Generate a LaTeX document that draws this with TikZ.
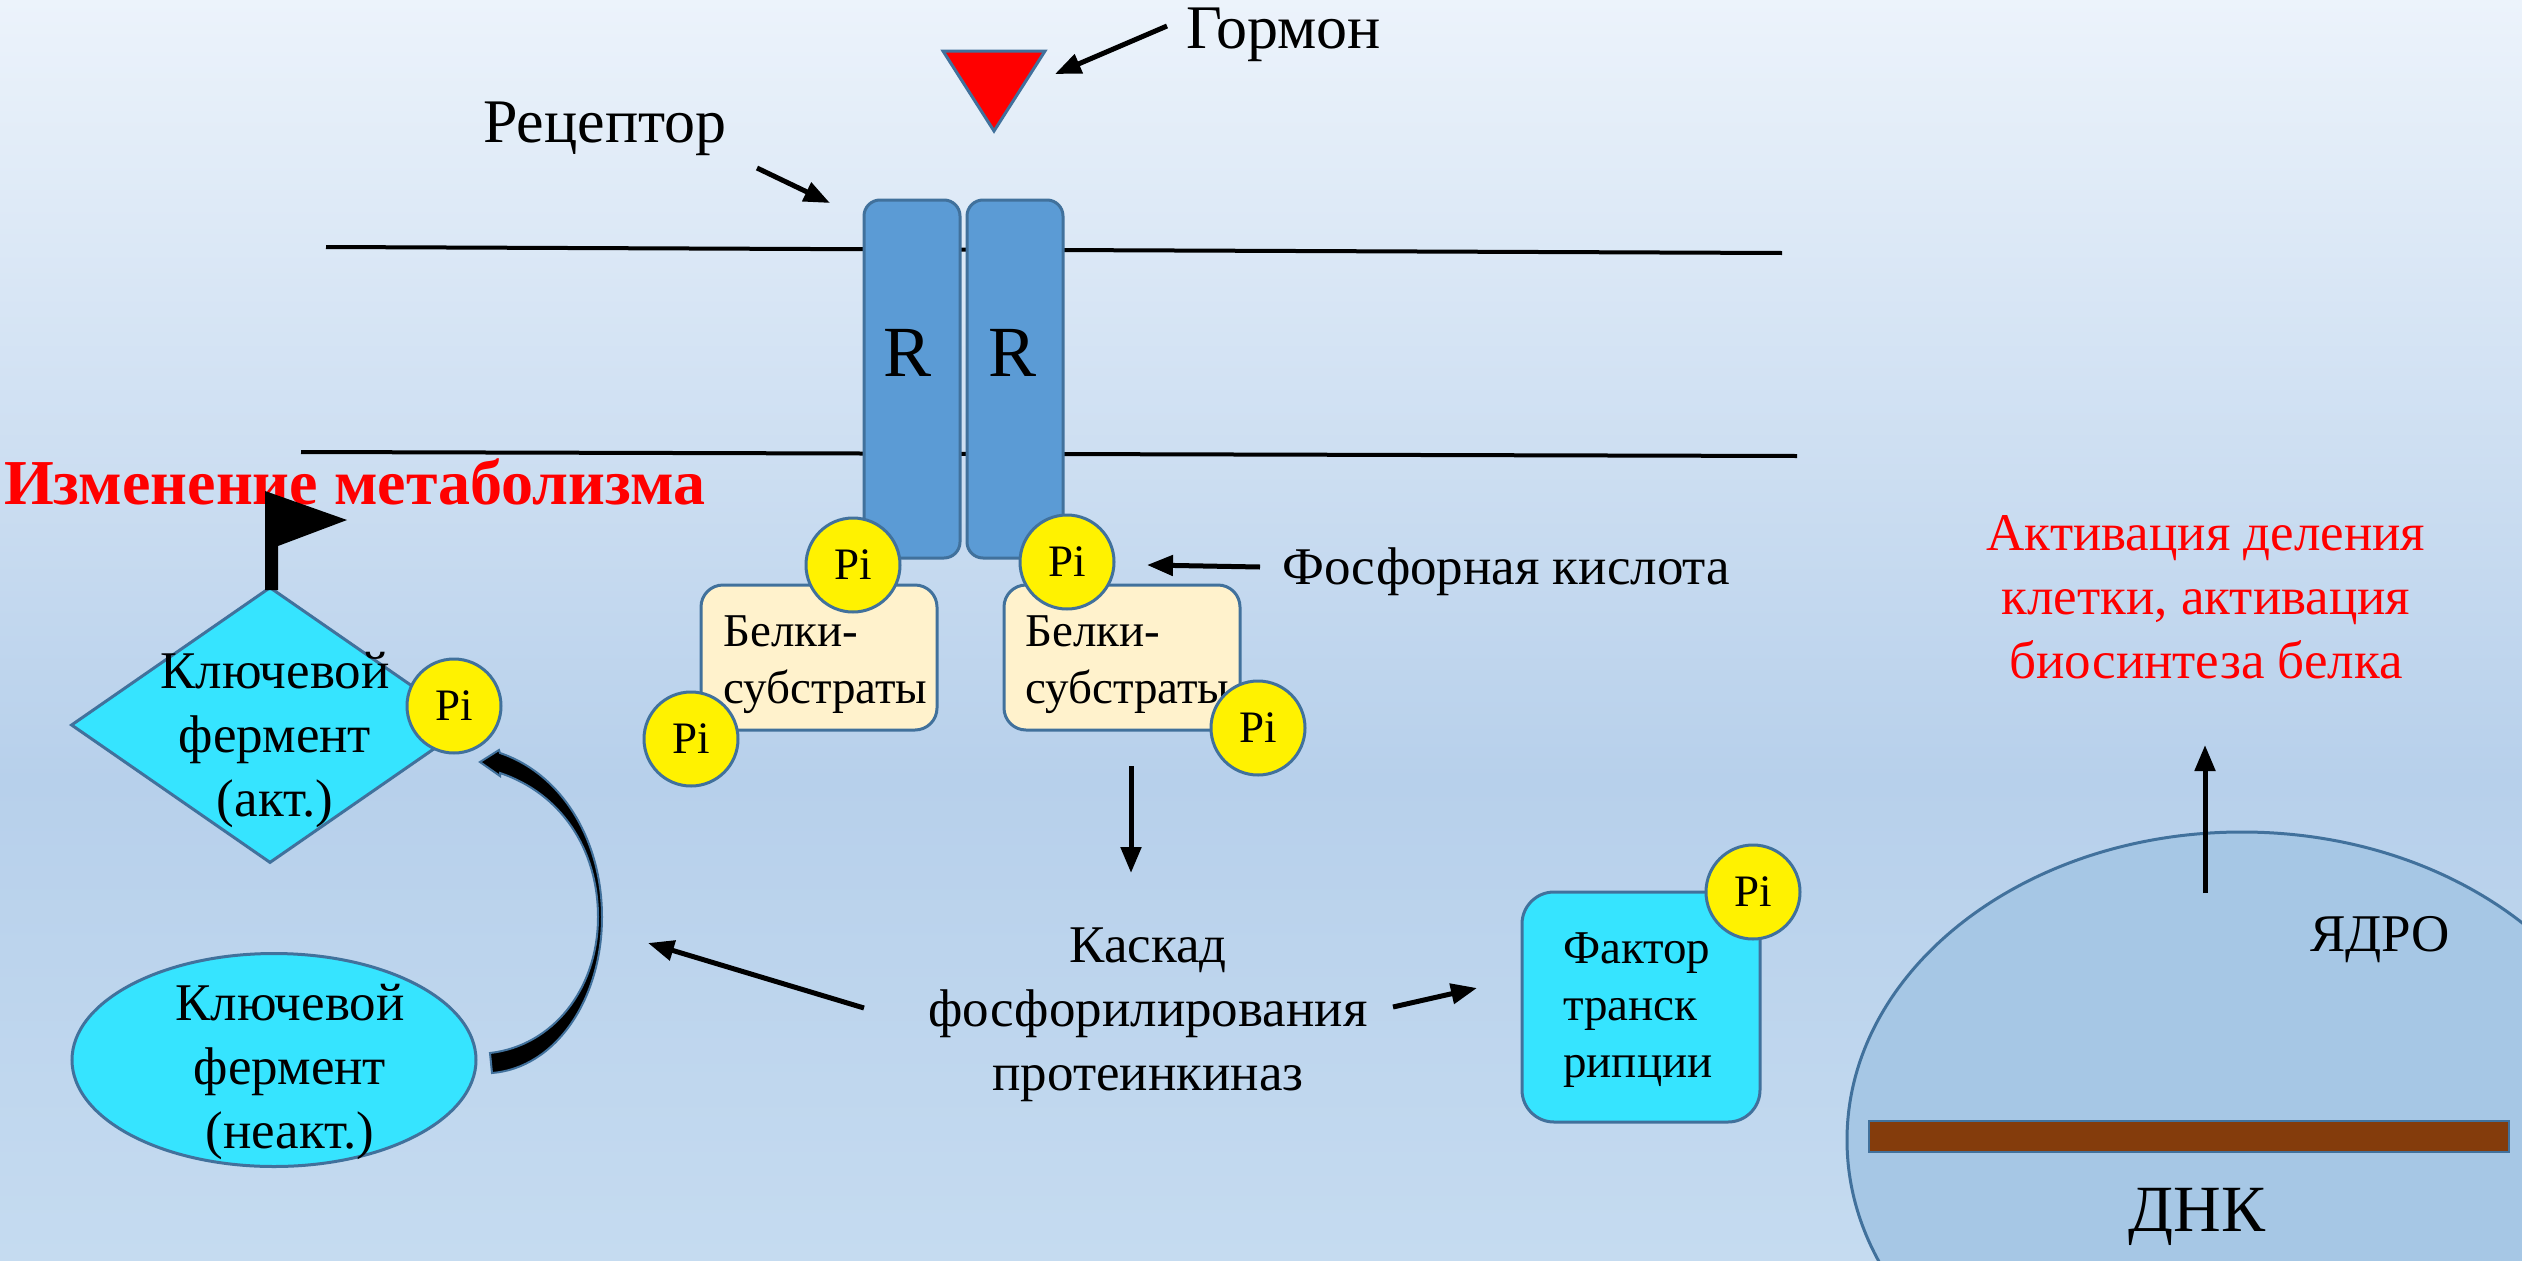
\documentclass[tikz,border=0pt]{standalone}
\usepackage{fontspec}
\setmainfont{Liberation Serif}
\usetikzlibrary{arrows.meta,shapes.geometric}
\definecolor{bord}{RGB}{65,113,156}
\definecolor{rblue}{RGB}{91,155,213}
\definecolor{cyanf}{RGB}{54,228,255}
\definecolor{cream}{RGB}{255,242,204}
\definecolor{dnabrown}{RGB}{132,60,12}
\definecolor{nucfill}{RGB}{166,199,229}
\definecolor{bgtop}{RGB}{236,243,251}
\definecolor{bgmid}{RGB}{183,208,235}
\definecolor{bgbot}{RGB}{197,219,240}
\definecolor{redtxt}{RGB}{255,0,0}
\begin{document}
\begin{tikzpicture}[x=1pt,y=-1pt,
  rbox/.style={rectangle,rounded corners=16pt,fill=rblue,draw=bord,line width=3pt,
    minimum width=96pt,minimum height=358pt,inner sep=0pt},
  pibub/.style={circle,fill=yellow,draw=bord,line width=3pt,minimum size=94pt,
    inner sep=0pt,font=\fontsize{45}{50}\selectfont},
  subbox/.style={rectangle,rounded corners=22pt,fill=cream,draw=bord,line width=3pt,
    minimum width=236pt,minimum height=145pt,inner sep=0pt},
  enzshape/.style={fill=cyanf,draw=bord,line width=3pt,inner sep=0pt},
  lbl/.style={inner sep=0pt,font=\fontsize{53}{64}\selectfont,align=center},
  boxlbl/.style={inner sep=0pt,font=\fontsize{47}{57}\selectfont,align=left},
  biglbl/.style={inner sep=0pt,font=\fontsize{62}{70}\selectfont},
  arr/.style={line width=5pt,-{Triangle[length=26pt,width=20pt]}},
  memline/.style={line width=4pt},
]
% canvas and background gradient
\useasboundingbox (0,0) rectangle (2522,1261);
\shade[top color=bgtop,bottom color=bgmid] (0,0) rectangle (2522,780);
\shade[top color=bgmid,bottom color=bgbot] (0,779) rectangle (2522,1261);

% nucleus with DNA
\node[ellipse,fill=nucfill,draw=bord,line width=3pt,minimum width=790pt,
  minimum height=616pt,inner sep=0pt] (nucleus) at (2242,1140) {};
\node[rectangle,fill=dnabrown,draw=bord,line width=2pt,minimum width=640pt,
  minimum height=31pt,inner sep=0pt] (dna) at (2189,1136.5) {};
\node[lbl,anchor=base] (nuclbl) at (2380,951) {ЯДРО};
\node[inner sep=0pt,font=\fontsize{66}{72}\selectfont,anchor=base] (dnalbl) at (2197,1231) {ДНК};
\node[lbl,text=redtxt,anchor=north] (effect) at (2206,515)
  {Активация деления\\клетки, активация\\биосинтеза белка};
\coordinate (upS) at (2205,893);
\coordinate (upE) at (2205,745);
\draw[arr] (upS) -- (upE);

% membrane
\coordinate (m1a) at (326,247);
\coordinate (m1b) at (1782,253);
\coordinate (m2a) at (301,452);
\coordinate (m2b) at (1797,456);
\draw[memline] (m1a) -- (m1b);
\draw[memline] (m2a) -- (m2b);

% hormone
\draw[fill=redtxt,draw=bord,line width=3pt] (943,51) -- (1045,51) -- (994,131) -- cycle;
\node[biglbl,anchor=base west] (hormone) at (1186,48) {Гормон};
\coordinate (hA) at (1167,26);
\coordinate (hB) at (1055,74);
\draw[arr] (hA) -- (hB);

% receptor dimer
\node[biglbl,anchor=base west] (receptor) at (483,142) {Рецептор};
\coordinate (rA) at (757,168);
\coordinate (rB) at (830,203);
\draw[arr] (rA) -- (rB);
\node[rbox] (r1) at (912,379) {};
\node[rbox] (r2) at (1015,379) {};
\node[inner sep=0pt,font=\fontsize{72}{80}\selectfont,anchor=base] (r1l) at (908,376) {R};
\node[inner sep=0pt,font=\fontsize{72}{80}\selectfont,anchor=base] (r2l) at (1012,376) {R};

% substrate proteins
\node[subbox] (sb1) at (819,657.5) {};
\node[subbox] (sb2) at (1122,657.5) {};
\node[boxlbl,anchor=north west] (sb1t) at (723,616) {Белки-\\субстраты};
\node[boxlbl,anchor=north west] (sb2t) at (1025,616) {Белки-\\субстраты};

% phosphate groups
\node[pibub] (pi1) at (853,565) {Pi};
\node[pibub] (pi2) at (1067,562) {Pi};
\node[pibub] (pi3) at (691,739) {Pi};
\node[pibub] (pi4) at (1258,728) {Pi};
\node[lbl,anchor=base west] (phos) at (1282,584) {Фосфорная кислота};
\coordinate (pA) at (1260,567);
\coordinate (pB) at (1147,565);
\draw[arr] (pA) -- (pB);

% kinase cascade
\coordinate (dA) at (1131,766);
\coordinate (dB) at (1131,873);
\draw[arr] (dA) -- (dB);
\node[lbl,anchor=north] (cascade) at (1148,928) {Каскад\\фосфорилирования\\протеинкиназ};
\coordinate (lA) at (864,1008);
\coordinate (lB) at (648,943);
\draw[arr] (lA) -- (lB);
\coordinate (fA) at (1393,1007);
\coordinate (fB) at (1477,988);
\draw[arr] (fA) -- (fB);

% transcription factor
\node[rectangle,rounded corners=32pt,fill=cyanf,draw=bord,line width=3pt,
  minimum width=238pt,minimum height=230pt,inner sep=0pt] (tf) at (1641,1007) {};
\node[boxlbl,anchor=north west] (tft) at (1563,933) {Фактор\\транск\\рипции};
\node[pibub] (pi6) at (1753,892) {Pi};

% key enzyme: active and inactive forms
\node[inner sep=0pt,font=\bfseries\fontsize{64}{72}\selectfont,text=redtxt,anchor=base west]
  (metab) at (4,504) {Изменение метаболизма};
\node[diamond,enzshape,minimum width=398pt,minimum height=276pt] (kact) at (270,725) {};
\fill (265,491) -- (347,520) -- (278,546) -- (278,590) -- (265,590) -- cycle;
\node[lbl,anchor=north] (kactt) at (275,652) {Ключевой\\фермент\\(акт.)};
\node[pibub] (pi5) at (454,706) {Pi};
\node[ellipse,enzshape,minimum width=404pt,minimum height=213pt] (kin) at (274,1060) {};
\node[lbl,anchor=north] (kint) at (290,984) {Ключевой\\фермент\\(неакт.)};

% activation arrow
\draw[fill=black,draw=bord,line width=2pt]
  (480,762) -- (499,750) -- (500,753)
  .. controls (562,774) and (602,840) .. (602,917)
  .. controls (602,1000) and (555,1068) .. (492,1073)
  -- (490,1053)
  .. controls (552,1046) and (598,990) .. (598,917)
  .. controls (598,848) and (560,793) .. (500,773)
  -- (500,776) -- cycle;
\end{tikzpicture}
\end{document}
